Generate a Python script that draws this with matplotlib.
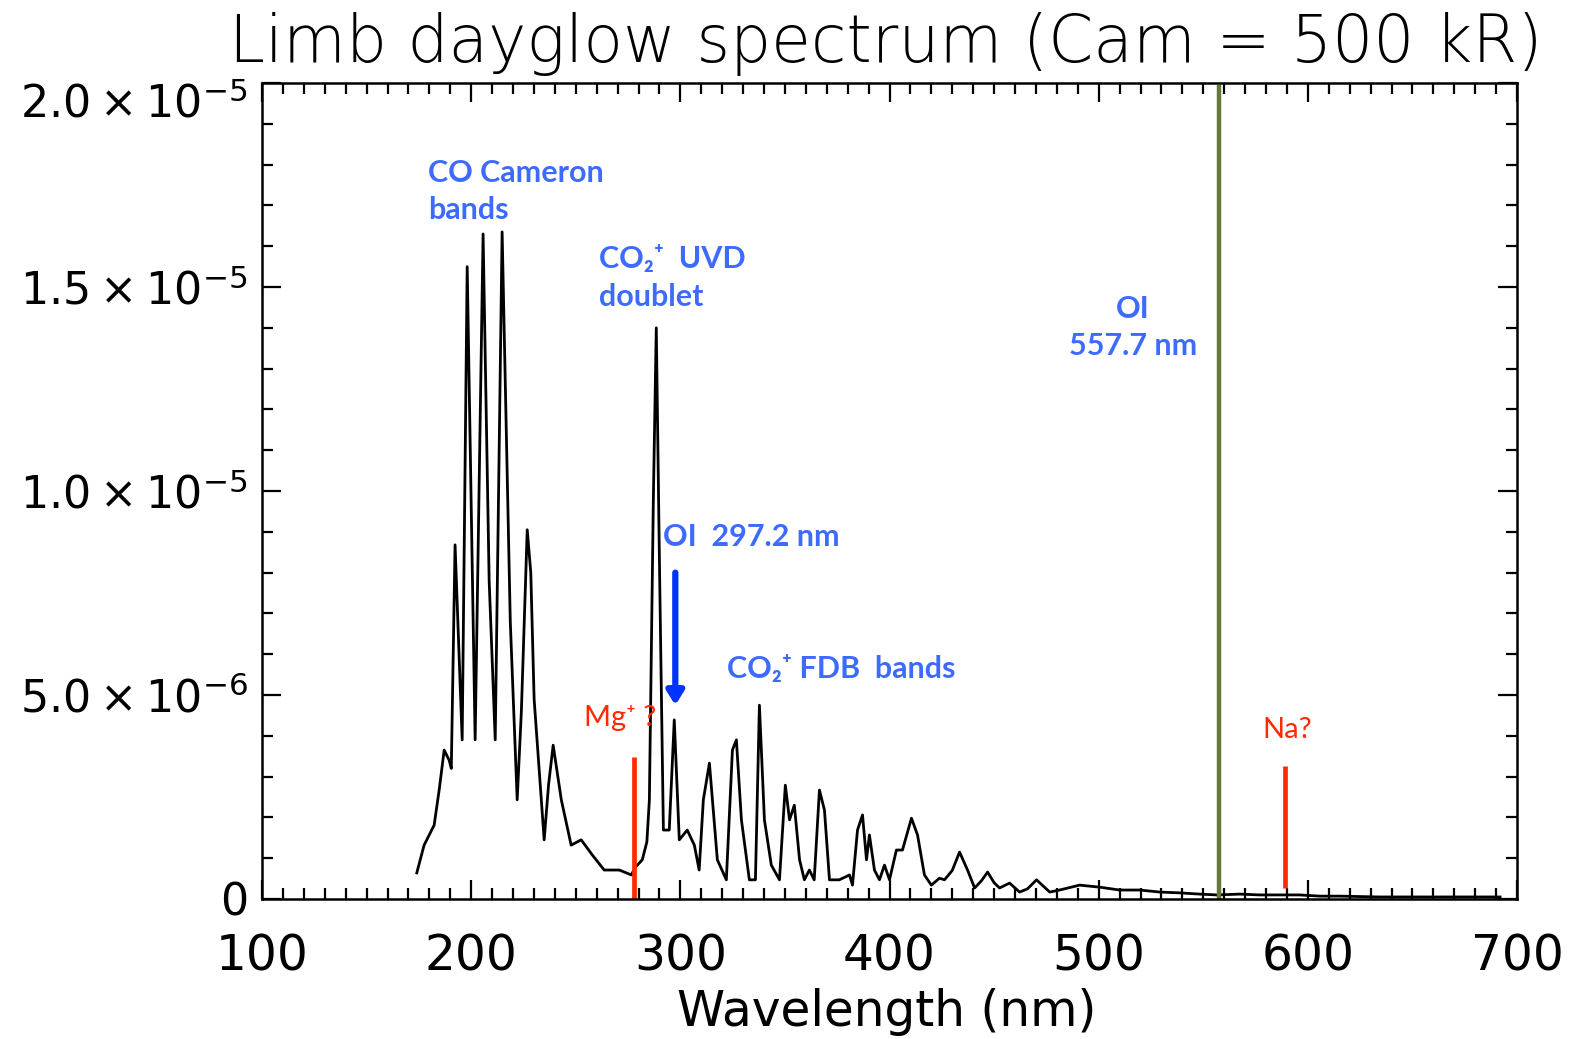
import numpy as np
import matplotlib
matplotlib.use("Agg")
import matplotlib.pyplot as plt
from matplotlib.ticker import MultipleLocator, FixedLocator, FixedFormatter

# Spectrum (wavelength in nm, intensity in units of 1e-6)
wavelength = [174, 177.5, 182.3, 184.7, 187.1, 189.5, 190.5, 192.3, 195.7, 198.1,
              201.9, 205.7, 208.6, 211.5, 214.8, 218.7, 222.0, 224.0, 226.8, 228.5,
              230.1, 234.9, 237.0, 239.2, 243.1, 247.8, 252.6, 257.9, 263.6, 270.8,
              276.6, 278.5, 281.8, 284.0, 285.2, 287.1, 288.5, 290.0, 291.9, 294.7,
              297.1, 299.5, 303.3, 306.7, 309.0, 311.0, 313.9, 317.7, 322.0, 324.9,
              326.8, 329.2, 333.0, 335.9, 337.8, 340.2, 343.5, 347.4, 350.2, 352.2,
              354.5, 357.0, 359.3, 361.7, 364.0, 366.5, 368.9, 371.3, 376.0, 380.9,
              382.3, 384.7, 387.1, 389.0, 390.4, 392.8, 395.2, 397.6, 400.0, 403.3,
              406.2, 410.5, 413.4, 416.7, 420.0, 423.9, 426.3, 430.0, 433.5, 437.3,
              440.7, 444.0, 446.9, 450.0, 452.6, 457.4, 462.2, 466.0, 470.3, 476.6,
              481.3, 490.9, 500.5, 510.0, 519.6, 529.2, 538.8, 548.3, 556.5, 567.5,
              577.0, 586.6, 596.0, 605.7, 615.3, 634.0, 653.6, 672.7, 691.9]
intensity_e6 = [0.64, 1.32, 1.81, 2.67, 3.65, 3.4, 3.2, 8.68, 3.9, 15.5,
                3.9, 16.3, 7.8, 3.9, 16.35, 6.8, 2.43, 4.6, 9.05, 8.0,
                4.9, 1.45, 2.8, 3.77, 2.43, 1.32, 1.45, 1.08, 0.71, 0.71,
                0.59, 0.78, 0.96, 1.4, 2.43, 9.8, 14.0, 8.3, 1.69, 1.69,
                4.39, 1.45, 1.69, 1.32, 0.71, 2.43, 3.33, 0.96, 0.47, 3.65,
                3.9, 1.94, 0.47, 0.47, 4.75, 1.94, 0.83, 0.47, 2.79, 1.94,
                2.3, 0.96, 0.47, 0.71, 0.47, 2.67, 2.18, 0.47, 0.47, 0.59,
                0.34, 1.69, 2.06, 0.96, 1.57, 0.71, 0.47, 0.83, 0.47, 1.2,
                1.2, 1.98, 1.57, 0.59, 0.34, 0.51, 0.47, 0.7, 1.15, 0.71,
                0.27, 0.45, 0.66, 0.4, 0.27, 0.39, 0.17, 0.25, 0.47, 0.17,
                0.22, 0.34, 0.29, 0.22, 0.22, 0.17, 0.15, 0.12, 0.10, 0.12,
                0.10, 0.10, 0.10, 0.07, 0.07, 0.05, 0.05, 0.05, 0.05]

# marker lines: (wavelength, bottom, top) in units of 1e-6
oi_green = 557.7
mg_line = (278.0, 0.0, 3.48)
na_line = (589.0, 0.27, 3.26)
oi_arrow = (297.6, 8.0, 4.75)

ytick_vals = [0, 5e-6, 1e-5, 1.5e-5, 2e-5]
ytick_labels = ["0", r"$5.0\times10^{-6}$", r"$1.0\times10^{-5}$",
                r"$1.5\times10^{-5}$", r"$2.0\times10^{-5}$"]

blue = "#3d6bff"
red = "#ff2a00"
lab_font = ["Lato", "DejaVu Sans"]

fig = plt.figure(figsize=(15.69, 10.39), dpi=100)
ax = fig.add_axes([262 / 1569, 1 - 899 / 1039, (1517 - 262) / 1569, (899 - 83) / 1039])

x = np.array(wavelength)
y = np.array(intensity_e6) * 1e-6
ax.plot(x, y, color="k", lw=2.0)

ax.axvline(oi_green, color="#657a38", lw=3.2, ymax=0.995)
ax.vlines(mg_line[0], mg_line[1] * 1e-6, mg_line[2] * 1e-6, color=red, lw=3.4)
ax.vlines(na_line[0], na_line[1] * 1e-6, na_line[2] * 1e-6, color=red, lw=3.4)
ax.annotate("", xy=(oi_arrow[0], oi_arrow[2] * 1e-6), xytext=(oi_arrow[0], oi_arrow[1] * 1e-6),
            arrowprops=dict(arrowstyle="-|>,head_width=0.25,head_length=0.4",
                            color="#0033ff", lw=4.5, mutation_scale=20, shrinkA=0, shrinkB=0))

# annotations
kw = dict(color=blue, fontsize=22, fontweight="bold", family=lab_font, linespacing=1.4)
ax.text(179.4, 17.35e-6, "CO Cameron\nbands", ha="left", va="center", **kw)
ax.text(261.2, 15.22e-6, "CO\u2082\u207a  UVD\ndoublet", ha="left", va="center", **kw)
ax.text(516.3, 14.0e-6, "OI\n557.7 nm", ha="center", va="center", multialignment="center", **kw)
ax.text(291.9, 8.87e-6, "OI  297.2 nm", ha="left", va="center", **kw)
ax.text(322.5, 5.64e-6, "CO\u2082\u207a FDB  bands", ha="left", va="center", **kw)
ax.text(254.0, 4.44e-6, "Mg\u207a ?", ha="left", va="center", color=red, fontsize=21, family=lab_font)
ax.text(578.5, 4.14e-6, "Na?", ha="left", va="center", color=red, fontsize=21, family=lab_font)

ax.set_xlim(100, 700)
ax.set_ylim(0, 2e-5)
ax.xaxis.set_major_locator(MultipleLocator(100))
ax.xaxis.set_minor_locator(MultipleLocator(10))
ax.yaxis.set_major_locator(FixedLocator(ytick_vals))
ax.yaxis.set_major_formatter(FixedFormatter(ytick_labels))
ax.yaxis.set_minor_locator(MultipleLocator(1e-6))

ax.tick_params(which="both", direction="in", top=True, right=True, width=1.6)
ax.tick_params(which="major", length=14)
ax.tick_params(which="minor", length=8)
ax.tick_params(axis="x", pad=24, labelsize=35)
ax.tick_params(axis="y", pad=10, labelsize=32)
for s in ax.spines.values():
    s.set_linewidth(1.8)
# top label sits a bit lower in the original
ax.get_yticklabels()[-1].set_va("top")

ax.set_xlabel("Wavelength (nm)", fontsize=35)
ax.xaxis.set_label_coords(0.498, -0.109)
fig.text(886 / 1569, 1 - 62 / 1039, "Limb dayglow spectrum (Cam = 500 kR)",
         fontsize=46.5, fontweight="light", ha="center", va="baseline")

fig.savefig("out.png", dpi=100)
